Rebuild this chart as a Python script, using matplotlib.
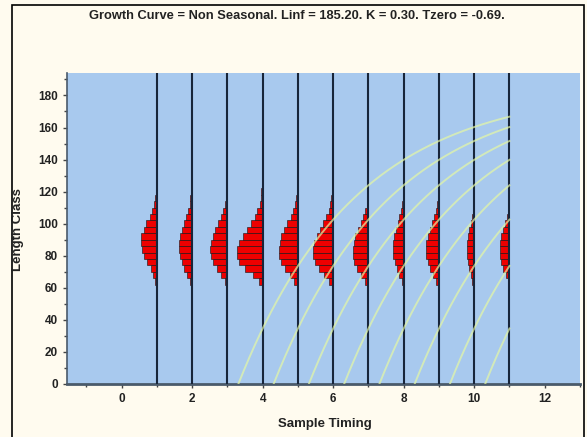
import numpy as np
import matplotlib.pyplot as plt
from matplotlib.ticker import MultipleLocator

# von Bertalanffy parameters from the title
Linf = 185.20
K = 0.30
t0 = -0.69

# sample times and length-class histograms (bar widths in x units)
sample_times = [1, 2, 3, 4, 5, 6, 7, 8, 9, 10, 11]
bin_lo = 58
bin_w = 4
s1 = [0, 0.04, 0.10, 0.18, 0.28, 0.37, 0.43, 0.45, 0.44, 0.38, 0.30, 0.21, 0.13, 0.08, 0.05, 0.03, 0.02, 0.01, 0.005]
s2 = [0.02, 0.07, 0.14, 0.22, 0.30, 0.35, 0.37, 0.37, 0.35, 0.30, 0.24, 0.17, 0.11, 0.07, 0.05, 0.035, 0.025, 0.015, 0.01, 0.008, 0.005]
s3 = [0.02, 0.08, 0.18, 0.30, 0.40, 0.46, 0.48, 0.47, 0.42, 0.35, 0.27, 0.19, 0.12, 0.08, 0.05, 0.035, 0.02, 0.015, 0.01, 0.005]
s4 = [0.02, 0.10, 0.28, 0.50, 0.68, 0.74, 0.73, 0.66, 0.55, 0.44, 0.33, 0.23, 0.15, 0.09, 0.06, 0.04, 0.025, 0.015, 0.01, 0.005]
s5 = [0.03, 0.10, 0.22, 0.36, 0.47, 0.53, 0.54, 0.52, 0.47, 0.39, 0.30, 0.21, 0.14, 0.09, 0.06, 0.04, 0.03, 0.02, 0.012, 0.008, 0.005, 0.003]
s6 = [0.03, 0.12, 0.25, 0.40, 0.52, 0.57, 0.57, 0.54, 0.47, 0.38, 0.29, 0.20, 0.13, 0.08, 0.05, 0.035, 0.025, 0.02, 0.015, 0.01, 0.008, 0.006, 0.004, 0.003, 0.002]
s7 = [0.03, 0.10, 0.22, 0.33, 0.41, 0.45, 0.45, 0.42, 0.37, 0.30, 0.22, 0.15, 0.09, 0.05, 0.03, 0.02, 0.015, 0.01, 0.005]
s8 = [0.01, 0.06, 0.13, 0.20, 0.26, 0.30, 0.31, 0.30, 0.27, 0.22, 0.17, 0.12, 0.08, 0.05, 0.03, 0.02, 0.015, 0.01, 0.005]
s9 = [0.02, 0.08, 0.16, 0.25, 0.32, 0.36, 0.37, 0.36, 0.32, 0.26, 0.19, 0.13, 0.08, 0.05, 0.03, 0.02, 0.015, 0.01, 0.005]
s10 = [0.01, 0.05, 0.10, 0.15, 0.19, 0.21, 0.21, 0.20, 0.18, 0.14, 0.10, 0.07, 0.04, 0.025, 0.015, 0.01, 0.005]
s11 = [0.01, 0.05, 0.11, 0.18, 0.24, 0.27, 0.28, 0.27, 0.24, 0.19, 0.13, 0.08, 0.05, 0.03, 0.015, 0.008]
samples = [s1, s2, s3, s4, s5, s6, s7, s8, s9, s10, s11]

# cohort start times (L = 0) for the growth curves
cohort_starts = [t0 + n for n in range(4, 12)]
curve_end = 11

title = 'Growth Curve = Non Seasonal. Linf = 185.20. K = 0.30. Tzero = -0.69.'
fam = ['Liberation Sans Narrow', 'Liberation Sans', 'DejaVu Sans']

fig = plt.figure(figsize=(5.87, 4.37), dpi=100)
fig.patch.set_facecolor('#fffbef')

# outer frame
frame = plt.Rectangle((12 / 587, -0.01), (584 - 12) / 587, 1 - 5 / 437 + 0.01,
                      transform=fig.transFigure, fill=False, edgecolor='black', lw=1.2)
fig.add_artist(frame)

fig.text(0.505, 1 - 16 / 437, title, ha='center', va='center', fontsize=9.3,
         fontweight='bold', family=fam, color='#222222')

ax = fig.add_axes([67 / 587, 53 / 437, (580 - 67) / 587, (384 - 73) / 437])
ax.set_facecolor('#a8c9ee')
ax.set_xlim(-1.55, 13)
ax.set_ylim(0, 194)

for t, widths in zip(sample_times, samples):
    w = np.array(widths)
    y = bin_lo + bin_w * np.arange(len(w)) + bin_w / 2
    keep = w > 0
    ax.barh(y[keep], w[keep], height=bin_w, left=t - w[keep], color='#ee0000',
            edgecolor='#111111', linewidth=0.4, zorder=3)
    ax.axvline(t, color='#17253a', lw=1.5, zorder=4)

for ts in cohort_starts:
    tt = np.linspace(ts, curve_end, 200)
    ax.plot(tt, Linf * (1 - np.exp(-K * (tt - ts))), color='#e4f7a4',
            lw=1.4, alpha=0.7, zorder=5)

ax.xaxis.set_major_locator(MultipleLocator(2))
ax.xaxis.set_minor_locator(MultipleLocator(1))
ax.yaxis.set_major_locator(MultipleLocator(20))
ax.yaxis.set_minor_locator(MultipleLocator(10))
ax.tick_params(which='both', direction='out', colors='#444444', length=3, width=1,
               labelsize=8.5, labelcolor='#222222')
ax.tick_params(which='minor', length=2)
for lab in ax.get_xticklabels() + ax.get_yticklabels():
    lab.set_fontweight('bold')
    lab.set_family(fam)

for s in ['top', 'right']:
    ax.spines[s].set_visible(False)
ax.spines['left'].set_color('#4a5a6a')
ax.spines['bottom'].set_color('#4a5a6a')
ax.spines['bottom'].set_linewidth(2)
ax.spines['left'].set_linewidth(1.2)

fig.text(18 / 587, 1 - 230 / 437, 'Length Class', rotation=90, ha='center', va='center',
         fontsize=9.5, fontweight='bold', family=fam, color='#222222')
fig.text(325 / 587, 1 - 424 / 437, 'Sample Timing', ha='center', va='center',
         fontsize=9.5, fontweight='bold', family=fam, color='#222222')

fig.savefig('out.png', dpi=100, facecolor=fig.get_facecolor())
